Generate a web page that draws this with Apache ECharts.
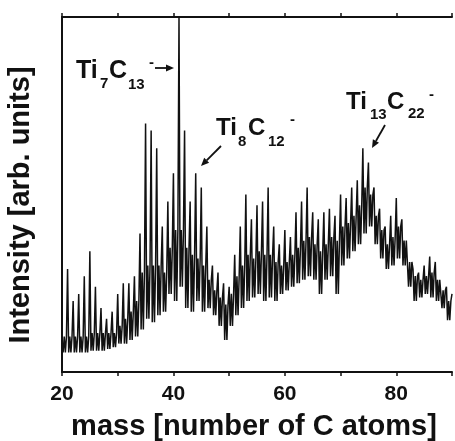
<!DOCTYPE html>
<html>
<head>
<meta charset="utf-8">
<script src="https://cdn.jsdelivr.net/npm/echarts@6/dist/echarts.min.js"></script>
<style>
html,body{margin:0;padding:0;background:#fff;}
#c{width:455px;height:441px;}
</style>
</head>
<body>
<div id="c"></div>
<script>
// ---- data ----
const massStart = 20;           // first mass (number of C atoms)
const xTicks = [20, 40, 60, 80];
// spike tops at integer masses 20..90
const peaks = [
  8, 29, 20, 22, 27, 34, 24, 18, 15, 17,
  22, 25, 25, 27, 39, 70, 68, 63, 41, 48,
  56, 100, 68, 48, 56, 52, 41, 30, 28, 25,
  24, 33, 41, 50, 43, 47, 48, 52, 41, 36,
  40, 38, 45, 48, 52, 45, 43, 45, 46, 44,
  50, 49, 52, 54, 63, 59, 52, 46, 41, 44,
  49, 43, 37, 29, 28, 30, 32.5, 31, 26, 24,
  22
];
// lower edge of the trace between spikes, 20..89
const valleys = [
  5.5, 5.5, 5.5, 5.5, 5.5, 6, 6, 6, 6.5, 7,
  8, 8, 9, 10, 12, 15, 14, 16, 17, 22,
  20, 24, 18, 17, 20, 17, 18, 16, 13, 9,
  13, 16, 18, 20, 21, 22, 20, 21, 20, 22,
  23, 24, 25, 26, 27, 26, 22, 26, 27, 22,
  30, 32, 34, 36, 39, 41, 36, 32, 29, 30,
  32, 30, 24, 20, 21, 22, 21, 20, 18, 14.6
];
// upper edge of the dense band between spikes, 20..89
const bandTops = [
  10, 10, 10, 10, 10, 11, 11, 11, 11, 11,
  13, 15, 17, 20, 28, 30, 30, 30, 28, 35,
  40, 40, 35, 33, 32, 30, 26, 23, 21, 19,
  22, 27, 30, 33, 32, 34, 33, 33, 31, 30,
  31, 33, 35, 37, 38, 36, 34, 36, 38, 37,
  41, 42, 44, 47, 52, 50, 44, 40, 36, 38,
  41, 37, 31, 27, 26, 27, 28, 26, 23, 20
];

const seriesData = [];
for (let i = 0; i < peaks.length; i++) {
  const m = massStart + i;
  seriesData.push([m, peaks[i]]);
  if (i < valleys.length) {
    seriesData.push([m + 0.2, valleys[i]]);
    seriesData.push([m + 0.4, bandTops[i]]);
    seriesData.push([m + 0.6, valleys[i]]);
    seriesData.push([m + 0.8, bandTops[i]]);
  }
}

const FONT = '"Liberation Sans", Arial, Helvetica, sans-serif';
const chart = echarts.init(document.getElementById('c'), null, {renderer: 'canvas'});

function txt(x, y, text, size, extra) {
  return Object.assign({
    type: 'text', x: x, y: y, z: 10,
    style: { text: text, fontFamily: FONT, fontWeight: 'bold', fontSize: size,
             fill: '#111', align: 'left', verticalAlign: 'top' }
  }, extra || {});
}
function arrow(x1, y1, x2, y2) {
  const ang = Math.atan2(y2 - y1, x2 - x1);
  const L = 8, W = 3.5;
  const bx = x2 - L * Math.cos(ang), by = y2 - L * Math.sin(ang);
  const px = -Math.sin(ang) * W, py = Math.cos(ang) * W;
  return [
    { type: 'line', z: 10, shape: { x1: x1, y1: y1, x2: bx, y2: by },
      style: { stroke: '#111', lineWidth: 1.8 } },
    { type: 'polygon', z: 10, shape: { points: [[x2, y2], [bx + px, by + py], [bx - px, by - py]] },
      style: { fill: '#111' } }
  ];
}

const graphics = [
  // y-axis title
  { type: 'text', x: 21, y: 205, rotation: Math.PI / 2, z: 10,
    style: { text: 'Intensity [arb. units]', fontFamily: FONT, fontWeight: 'bold', fontSize: 29,
             fill: '#111', align: 'center', verticalAlign: 'middle' } },
  // x-axis title
  { type: 'text', x: 254, y: 427, z: 10,
    style: { text: 'mass [number of C atoms]', fontFamily: FONT, fontWeight: 'bold', fontSize: 29,
             fill: '#111', align: 'center', verticalAlign: 'middle' } },
  // Ti7C13-
  txt(76, 59, 'Ti', 25), txt(100, 76, '7', 15), txt(109, 59, 'C', 25), txt(128, 77, '13', 15), txt(149, 55, '-', 15),
  // Ti8C12-
  txt(216, 116, 'Ti', 24), txt(238, 134, '8', 15), txt(248, 116, 'C', 24), txt(268, 134, '12', 15), txt(290, 112, '-', 15),
  // Ti13C22-
  txt(346, 90, 'Ti', 24), txt(370, 107, '13', 15), txt(387, 90, 'C', 24), txt(408, 106, '22', 15), txt(429, 87, '-', 15)
].concat(arrow(155, 68, 174, 68), arrow(221, 146, 201, 166), arrow(385, 125, 372, 148));

const axisCommon = {
  type: 'value', min: 20, max: 90, interval: 10,
  axisLine: { show: true, lineStyle: { color: '#111', width: 2 } },
  axisTick: { show: true, inside: false, length: 4, lineStyle: { color: '#111', width: 1.5 } },
  splitLine: { show: false }
};

chart.setOption({
  animation: false,
  backgroundColor: '#fff',
  grid: { left: 62, right: -1, top: 17, bottom: 69, containLabel: false },
  xAxis: [
    Object.assign({}, axisCommon, {
      position: 'bottom',
      axisLabel: { show: true, margin: 12, fontFamily: FONT, fontWeight: 'bold', fontSize: 21, color: '#111',
                   formatter: function (v) { return xTicks.indexOf(v) >= 0 ? String(v) : ''; } }
    }),
    Object.assign({}, axisCommon, { position: 'top', axisLabel: { show: false } })
  ],
  yAxis: {
    type: 'value', min: 0, max: 100,
    axisLine: { show: true, onZero: false, lineStyle: { color: '#111', width: 2 } },
    axisTick: { show: false }, axisLabel: { show: false }, splitLine: { show: false }
  },
  series: [{
    type: 'line', xAxisIndex: 0, data: seriesData, symbol: 'none', smooth: false,
    lineStyle: { color: '#111', width: 1.5 }, clip: true
  }],
  graphic: graphics
});
</script>
</body>
</html>
